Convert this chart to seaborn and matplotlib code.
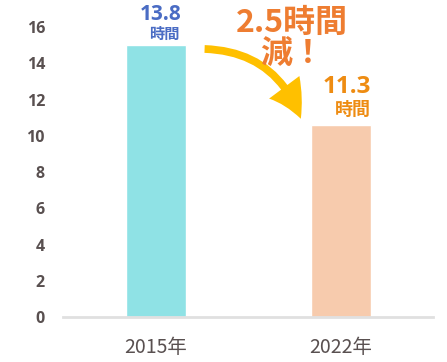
import matplotlib
matplotlib.use("Agg")
import matplotlib.pyplot as plt
import pandas as pd
import seaborn as sns

# data
years = ["2015年", "2022年"]
bar_heights = [15.0, 10.6]
value_labels = ["13.8", "11.3"]
unit_label = "時間"
bar_colors = ["#8fe2e5", "#f7cbad"]
label_colors = ["#4a6cc4", "#ee8c12"]
yticks = [0, 2, 4, 6, 8, 10, 12, 14, 16]
callout = "2.5時間\n減！"

sns.set_theme(style="white")
plt.rcParams["font.family"] = ["Noto Sans CJK JP", "DejaVu Sans"]

df = pd.DataFrame({"year": years, "hours": bar_heights})

fig = plt.figure(figsize=(4.47, 3.62), dpi=100)
ax = fig.add_axes([0.141, 0.124, 0.828, 0.801])

sns.barplot(data=df, x="year", y="hours", hue="year", palette=bar_colors,
            width=0.324, legend=False, ax=ax, saturation=1)

ax.set_xlim(-0.5, 1.5)
ax.set_ylim(0, 16)
ax.set_yticks(yticks)
ax.set_yticklabels([str(t) for t in yticks], family=["Open Sans", "DejaVu Sans"],
                   fontweight="bold", fontsize=11.5, color="#595050")
ax.set_xticks(range(len(years)))
ax.set_xticklabels(years, fontsize=14, color="#595050")
ax.tick_params(axis="y", length=0, pad=13)
ax.tick_params(axis="x", length=0, pad=14)
ax.set_xlabel("")
ax.set_ylabel("")
for side in ["top", "right", "left"]:
    ax.spines[side].set_visible(False)
ax.spines["bottom"].set_color("#e0e0e0")
ax.spines["bottom"].set_linewidth(2)

# value labels above each bar (second one is drawn larger in the original)
num_sizes = [15, 17.5]
unit_sizes = [11, 13]
num_offsets = [(-3, 18), (0, 23)]
unit_offsets = [(-4, 4.5), (0, 7)]
for i, (h, lab) in enumerate(zip(bar_heights, value_labels)):
    ax.annotate(lab, xy=(i + 0.162, h), xytext=num_offsets[i], textcoords="offset points",
                ha="right", va="baseline", fontsize=num_sizes[i], fontweight="bold",
                color=label_colors[i], family=["Open Sans", "DejaVu Sans"],
                annotation_clip=False)
    ax.annotate(unit_label, xy=(i + 0.162, h), xytext=unit_offsets[i], textcoords="offset points",
                ha="right", va="baseline", fontsize=unit_sizes[i],
                fontweight="bold", color=label_colors[i], annotation_clip=False)

# curved arrow between bars
ax.annotate("", xy=(0.79, 10.8), xytext=(0.25, 14.8),
            arrowprops=dict(arrowstyle="simple,tail_width=0.35,head_width=1.7,head_length=1.6",
                            mutation_scale=16, color="#ffc000", lw=0,
                            connectionstyle="arc3,rad=-0.35"),
            annotation_clip=False)

ax.text(0.735, 15.35, callout, ha="center", va="center", fontsize=23,
        fontweight="bold", color="#ee7d31", linespacing=0.98)

fig.savefig("out.png", dpi=100)
